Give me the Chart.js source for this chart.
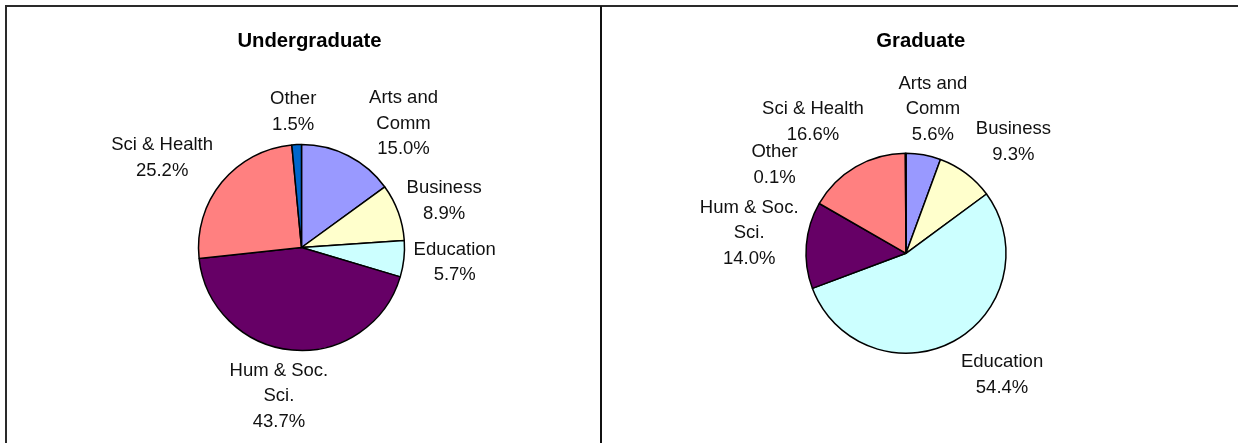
<!DOCTYPE html>
<html>
<head>
<meta charset="utf-8">
<script src="https://cdn.jsdelivr.net/npm/chart.js@4"></script>
<style>
    body { margin: 0; background: #fff; width: 1238px; height: 443px; overflow: hidden; position: relative; }
    .line { position: absolute; background: #2a2a2a; }
    canvas { position: absolute; }
</style>
</head>
<body>

<div class="line" style="left:5px; top:5px; width:1233px; height:2px;"></div>
<div class="line" style="left:5px; top:5px; width:2px; height:438px;"></div>
<div class="line" style="left:600px; top:6px; width:2px; height:437px; background:#111;"></div>

<canvas id="undergradChart" width="594" height="435" style="left:7px; top:8px;"></canvas>
<canvas id="gradChart" width="636" height="435" style="left:602px; top:8px;"></canvas>

<script>
// slice order, starting at 12 o'clock and going clockwise
let categories = ['Arts and Comm', 'Business', 'Education', 'Hum & Soc. Sci.', 'Sci & Health', 'Other'];

// how each category name is broken over lines in the labels
let labelLines = [
    ['Arts and', 'Comm'],
    ['Business'],
    ['Education'],
    ['Hum & Soc.', 'Sci.'],
    ['Sci & Health'],
    ['Other']
];

let undergradValues = [15.0, 8.9, 5.7, 43.7, 25.2, 1.5];
let gradValues = [5.6, 9.3, 54.4, 14.0, 16.6, 0.1];

let sliceColors = ['#9999FF', '#FFFFCC', '#CCFFFF', '#660066', '#FF8080', '#0066CC'];

// draws the "name / percent" labels outside every slice, plus the title
let sliceLabels = {
    id: 'sliceLabels',
    afterDatasetsDraw: function(chart, args, opts) {
        let ctx = chart.ctx;
        let meta = chart.getDatasetMeta(0);
        let values = chart.data.datasets[0].data;

        ctx.save();
        ctx.fillStyle = '#111';
        ctx.textAlign = 'center';
        ctx.textBaseline = 'middle';
        ctx.font = opts.font;

        meta.data.forEach(function(arc, i) {
            let p = arc.getProps(['x', 'y', 'startAngle', 'endAngle', 'outerRadius'], true);
            let mid = (p.startAngle + p.endAngle) / 2;
            let ux = Math.cos(mid);
            let uy = Math.sin(mid);

            let lines = labelLines[i].concat(values[i].toFixed(1) + '%');
            let w = Math.max.apply(null, lines.map(function(t) { return ctx.measureText(t).width; }));
            let h = lines.length * opts.lineHeight;
            let nudge = opts.nudge[i] || [0, 0];

            let cx = p.x + (p.outerRadius + opts.gap) * ux + w / 2 * ux + nudge[0];
            let cy = p.y + (p.outerRadius + opts.gap) * uy + h / 2 * uy + nudge[1];

            for (let k = 0; k < lines.length; k++) {
                ctx.fillText(lines[k], cx, cy + (k - (lines.length - 1) / 2) * opts.lineHeight);
            }
        });

        ctx.font = opts.titleFont;
        ctx.textBaseline = 'alphabetic';
        ctx.fillStyle = '#000';
        ctx.fillText(opts.title, opts.titleX, opts.titleY);
        ctx.restore();
    }
};

function buildPie(canvasId, values, title, centerX, centerY, radius, titleX, nudge) {
    let canvas = document.getElementById(canvasId);
    let W = canvas.width;
    let H = canvas.height;

    let config = {
        type: 'pie',
        data: {
            labels: categories,
            datasets: [{
                data: values,
                backgroundColor: sliceColors,
                borderColor: '#000',
                borderWidth: 1.5,
                radius: radius
            }]
        },
        options: {
            responsive: false,
            animation: false,
            layout: {
                padding: {
                    left: Math.max(0, 2 * centerX - W),
                    right: Math.max(0, W - 2 * centerX),
                    top: Math.max(0, 2 * centerY - H),
                    bottom: Math.max(0, H - 2 * centerY)
                }
            },
            plugins: {
                legend: { display: false },
                tooltip: { enabled: false },
                sliceLabels: {
                    font: '18.5px "Liberation Sans", Arial, sans-serif',
                    titleFont: 'bold 20.3px "Liberation Sans", Arial, sans-serif',
                    lineHeight: 25.5,
                    gap: 8,
                    nudge: nudge,
                    title: title,
                    titleX: titleX,
                    titleY: 39
                }
            }
        },
        plugins: [sliceLabels]
    };

    return new Chart(canvas, config);
}

buildPie('undergradChart', undergradValues, 'Undergraduate', 294.5, 239.5, 103, 302.5,
    [[36, 9], [3, 0], [2, 0], [-8, 0], [-14, -3], [-2, 1]]);

buildPie('gradChart', gradValues, 'Graduate', 304, 245.3, 100, 318.8,
    [[2, 0], [20, -4.5], [25, 4], [0, -8], [-13, -16], [-131, 45]]);
</script>
</body>
</html>
